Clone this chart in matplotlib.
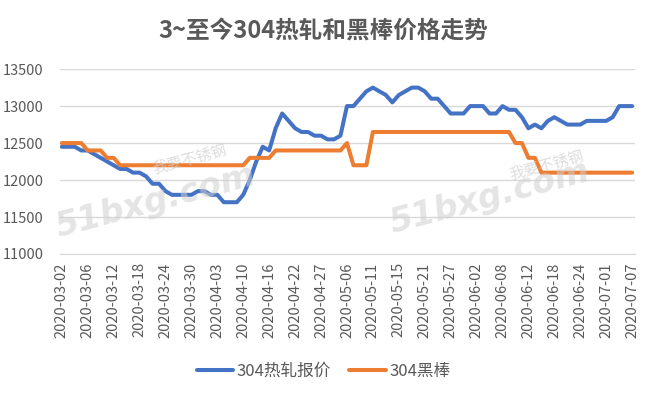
import matplotlib
matplotlib.use("Agg")
import matplotlib.pyplot as plt
from matplotlib.lines import Line2D

plt.rcParams["font.family"] = ["Noto Sans CJK SC", "DejaVu Sans"]

# daily prices (yuan/ton), one value per trading day, 2020-03-02 .. 2020-07-07
hot_rolled = [
    12450, 12450, 12450, 12400, 12400, 12350, 12300, 12250, 12200, 12150,
    12150, 12100, 12100, 12050, 11950, 11950, 11850, 11800, 11800, 11800,
    11800, 11850, 11850, 11800, 11800, 11700, 11700, 11700, 11800, 12000,
    12250, 12450, 12400, 12700, 12900, 12800, 12700, 12650, 12650, 12600,
    12600, 12550, 12550, 12600, 13000, 13000, 13100, 13200, 13250, 13200,
    13150, 13050, 13150, 13200, 13250, 13250, 13200, 13100, 13100, 13000,
    12900, 12900, 12900, 13000, 13000, 13000, 12900, 12900, 13000, 12950,
    12950, 12850, 12700, 12750, 12700, 12800, 12850, 12800, 12750, 12750,
    12750, 12800, 12800, 12800, 12800, 12850, 13000, 13000, 13000,
]
black_bar = (
    [12500] * 4 + [12400] * 3 + [12300] * 2 + [12200] * 20 + [12300] * 4
    + [12400] * 11 + [12500] + [12200] * 3 + [12650] * 22 + [12500] * 2
    + [12300] * 2 + [12100] * 15
)

tick_labels = [
    "2020-03-02", "2020-03-06", "2020-03-12", "2020-03-18", "2020-03-24",
    "2020-03-30", "2020-04-03", "2020-04-10", "2020-04-16", "2020-04-22",
    "2020-04-27", "2020-05-06", "2020-05-11", "2020-05-15", "2020-05-21",
    "2020-05-27", "2020-06-02", "2020-06-08", "2020-06-12", "2020-06-18",
    "2020-06-24", "2020-07-01", "2020-07-07",
]
tick_step = 4

BLUE = "#4472C4"
ORANGE = "#ED7D31"
TEXT = "#595959"

fig = plt.figure(figsize=(6.47, 3.95), dpi=100)
ax = fig.add_axes([0.093, 0.357, 0.888, 0.468])

# site watermarks
for wx, wy, cx, cy in [(0.24, 0.49, 0.294, 0.595), (0.757, 0.50, 0.845, 0.58)]:
    fig.text(wx, wy, "51bxg.com", fontsize=24, fontweight="bold", style="italic",
             color="#cfcfcf", alpha=0.55, rotation=15, ha="center", va="center",
             family="DejaVu Sans")
    fig.text(cx, cy, "我要不锈钢", fontsize=11, color="#cfcfcf", alpha=0.7,
             rotation=15, ha="center", va="center")

x = list(range(len(hot_rolled)))
ax.plot(x, hot_rolled, color=BLUE, lw=2.9, solid_capstyle="round",
        solid_joinstyle="round")
ax.plot(x, black_bar, color=ORANGE, lw=2.9, solid_capstyle="round",
        solid_joinstyle="round")

ax.set_ylim(11000, 13500)
ax.set_yticks(range(11000, 13501, 500))
ax.set_xlim(-0.25, len(x) - 0.6)
ax.set_xticks(range(0, len(x), tick_step))
ax.set_xticklabels(tick_labels, rotation=90)

ax.grid(axis="y", color="#d9d9d9", lw=1)
ax.set_axisbelow(True)
for side in ["top", "right", "left"]:
    ax.spines[side].set_visible(False)
ax.spines["bottom"].set_color("#d9d9d9")
ax.tick_params(axis="both", length=0, labelsize=10.5, colors=TEXT)
ax.tick_params(axis="y", pad=12)
ax.tick_params(axis="x", pad=6)

fig.text(0.5, 0.92, "3~至今304热轧和黑棒价格走势", ha="center", va="center",
         fontsize=17, fontweight="bold", color=TEXT)

handles = [
    Line2D([], [], color=BLUE, lw=2.9, solid_capstyle="round"),
    Line2D([], [], color=ORANGE, lw=2.9, solid_capstyle="round"),
]
fig.legend(handles, ["304热轧报价", "304黑棒"], loc="center",
           bbox_to_anchor=(0.50, 0.06), ncol=2, frameon=False, fontsize=12,
           labelcolor=TEXT, handlelength=2.2, handletextpad=0.2, columnspacing=1.1)

fig.savefig("out.png", dpi=100)
